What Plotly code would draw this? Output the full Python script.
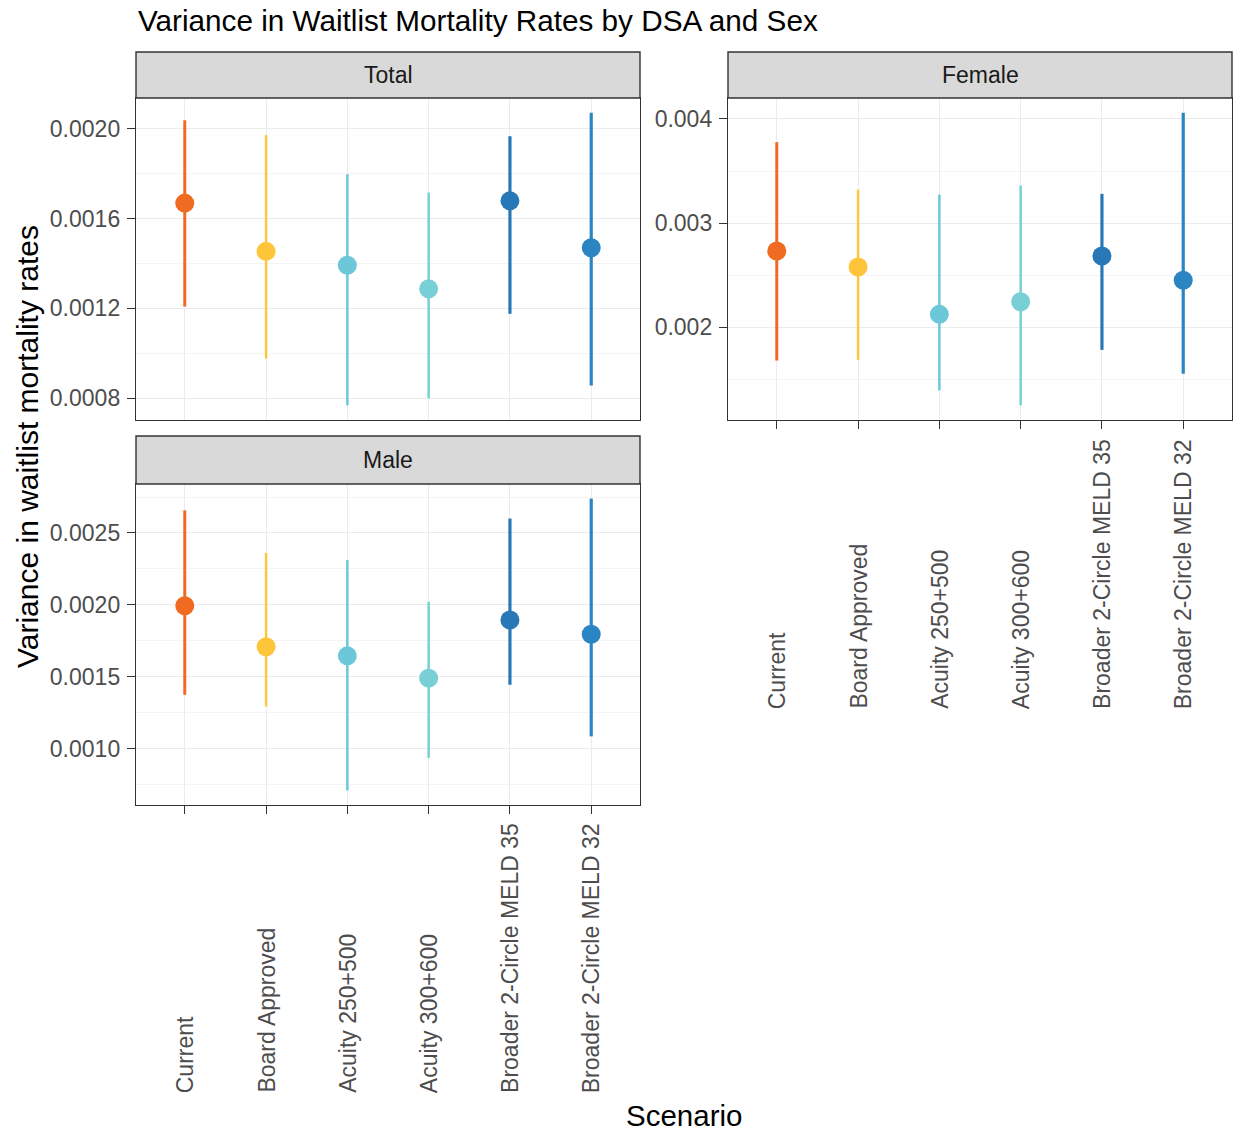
import plotly.graph_objects as go

# ---------------- data ----------------
scenarios = ["Current", "Board Approved", "Acuity 250+500", "Acuity 300+600",
             "Broader 2-Circle MELD 35", "Broader 2-Circle MELD 32"]
colors = ["#F06A22", "#FEC53A", "#6CC8D9", "#78CFD5", "#2878B7", "#2C85C3"]
line_w = [3.0, 2.4, 2.5, 2.5, 3.2, 3.2]

total_est = [0.001669, 0.001454, 0.001392, 0.001287, 0.001679, 0.001470]
total_lo = [0.001208, 0.000976, 0.000768, 0.000800, 0.001176, 0.000857]
total_hi = [0.002038, 0.001972, 0.001798, 0.001716, 0.001967, 0.002072]

female_est = [0.002733, 0.002580, 0.002125, 0.002246, 0.002685, 0.002453]
female_lo = [0.001682, 0.001689, 0.001396, 0.001252, 0.001784, 0.001555]
female_hi = [0.003777, 0.003322, 0.003274, 0.003360, 0.003281, 0.004060]

male_est = [0.001994, 0.001709, 0.001645, 0.001490, 0.001895, 0.001795]
male_lo = [0.001374, 0.001293, 0.000709, 0.000935, 0.001444, 0.001085]
male_hi = [0.002657, 0.002361, 0.002311, 0.002021, 0.002600, 0.002739]

panel_names = ["Total", "Female", "Male"]
y_dticks = [0.0004, 0.001, 0.0005]
y_formats = [".4f", ".3f", ".4f"]

title_text = "Variance in Waitlist Mortality Rates by DSA and Sex"
y_title = "Variance in waitlist mortality rates"
x_title = "Scenario"

# ---------------- layout helpers ----------------
W, H = 1236, 1133
FONT = "Liberation Sans, Arial, sans-serif"


def fx(p):
    return p / W


def fy(p):
    return 1 - p / H


panels = [
    dict(est=total_est, lo=total_lo, hi=total_hi, xa="x", ya="y",
         xpx=(136, 640), ypx=(98, 420), strip=(52, 98), show_x=False, lab_bottom=None),
    dict(est=female_est, lo=female_lo, hi=female_hi, xa="x2", ya="y2",
         xpx=(728, 1232), ypx=(98, 420), strip=(52, 98), show_x=True, lab_bottom=711),
    dict(est=male_est, lo=male_lo, hi=male_hi, xa="x3", ya="y3",
         xpx=(136, 640), ypx=(484, 805), strip=(436, 484), show_x=True, lab_bottom=1095),
]

fig = go.Figure()
annotations = []
shapes = []
layout_axes = {}

for k, p in enumerate(panels):
    for i, sc in enumerate(scenarios):
        fig.add_trace(go.Scatter(
            x=[sc], y=[p["est"][i]], mode="markers",
            marker=dict(color=colors[i], size=19, line=dict(width=0)),
            error_y=dict(type="data", symmetric=False,
                         array=[p["hi"][i] - p["est"][i]],
                         arrayminus=[p["est"][i] - p["lo"][i]],
                         color=colors[i], thickness=line_w[i], width=0),
            xaxis=p["xa"], yaxis=p["ya"], showlegend=False, hoverinfo="x+y",
        ))

    lo_all = min(p["lo"])
    hi_all = max(p["hi"])
    pad = 0.05 * (hi_all - lo_all)
    yr = [lo_all - pad, hi_all + pad]

    xkey = "xaxis" if k == 0 else f"xaxis{k + 1}"
    ykey = "yaxis" if k == 0 else f"yaxis{k + 1}"
    layout_axes[xkey] = dict(
        type="category", categoryorder="array", categoryarray=scenarios,
        range=[-0.6, len(scenarios) - 0.4],
        domain=[fx(p["xpx"][0]), fx(p["xpx"][1])], anchor=p["ya"],
        showgrid=True, gridcolor="#EBEBEB", gridwidth=1.2,
        ticks="outside" if p["show_x"] else "", ticklen=8, tickwidth=1.3, tickcolor="#333333",
        showticklabels=False, showline=True, mirror=True,
        linecolor="#333333", linewidth=1.4, zeroline=False, fixedrange=True,
    )
    dt = y_dticks[k]
    layout_axes[ykey] = dict(
        range=yr, domain=[fy(p["ypx"][1]), fy(p["ypx"][0])], anchor=p["xa"],
        tick0=0, dtick=dt, tickformat=y_formats[k],
        ticks="outside", ticklen=8, tickwidth=1.3, tickcolor="#333333",
        ticklabelstandoff=2,
        tickfont=dict(family=FONT, size=23, color="#4D4D4D"),
        showgrid=True, gridcolor="#EBEBEB", gridwidth=1.2,
        minor=dict(dtick=dt / 2, tick0=0, showgrid=True, gridcolor="#F4F4F4", gridwidth=0.7, ticks=""),
        showline=True, mirror=True, linecolor="#333333", linewidth=1.4,
        zeroline=False, fixedrange=True,
    )

    # strip
    shapes.append(dict(type="rect", xref="paper", yref="paper",
                       x0=fx(p["xpx"][0]), x1=fx(p["xpx"][1]),
                       y0=fy(p["strip"][1]), y1=fy(p["strip"][0]),
                       fillcolor="#D9D9D9", line=dict(color="#333333", width=1.4),
                       layer="above"))
    annotations.append(dict(text=panel_names[k], xref="paper", yref="paper",
                            x=fx((p["xpx"][0] + p["xpx"][1]) / 2),
                            y=fy((p["strip"][0] + p["strip"][1]) / 2),
                            xanchor="center", yanchor="middle", showarrow=False,
                            font=dict(family=FONT, size=23, color="#1A1A1A")))

    # rotated category labels, bottom aligned
    if p["show_x"]:
        for sc in scenarios:
            annotations.append(dict(text=sc, xref=p["xa"], yref="paper",
                                    x=sc, y=fy(p["lab_bottom"]),
                                    xanchor="center", yanchor="bottom",
                                    textangle=-90, showarrow=False,
                                    font=dict(family=FONT, size=23, color="#4D4D4D")))

# titles
annotations.append(dict(text=title_text, xref="paper", yref="paper",
                        x=fx(136), y=fy(20), xanchor="left", yanchor="middle",
                        showarrow=False, font=dict(family=FONT, size=29.7, color="black")))
annotations.append(dict(text=y_title, xref="paper", yref="paper",
                        x=fx(27), y=fy(447), xanchor="center", yanchor="middle",
                        textangle=-90, showarrow=False,
                        font=dict(family=FONT, size=30, color="black")))
annotations.append(dict(text=x_title, xref="paper", yref="paper",
                        x=fx(684), y=fy(1115), xanchor="center", yanchor="middle",
                        showarrow=False, font=dict(family=FONT, size=29.5, color="black")))

fig.update_layout(
    width=W, height=H,
    margin=dict(l=0, r=0, t=0, b=0),
    paper_bgcolor="white", plot_bgcolor="white",
    font=dict(family=FONT),
    annotations=annotations, shapes=shapes,
    showlegend=False,
    **layout_axes,
)

fig.write_html("out.html",
               config={"displayModeBar": False},
               post_script="document.body.style.margin='0';document.body.style.overflow='hidden';")
